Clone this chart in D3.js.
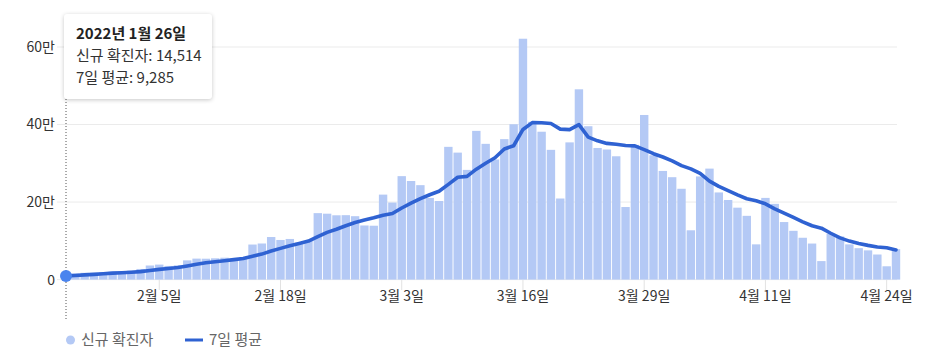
<!DOCTYPE html>
<html><head><meta charset="utf-8">
<script src="https://cdn.jsdelivr.net/npm/d3@7"></script>
<style>
html,body{margin:0;padding:0;background:#fff;}
body{width:936px;height:352px;position:relative;overflow:hidden;font-family:"Noto Sans CJK KR","Noto Sans",sans-serif;}
#tip{position:absolute;left:64px;top:14px;width:148px;height:85px;box-sizing:border-box;background:#fff;border-radius:3px;box-shadow:0 1px 4px rgba(0,0,0,0.22);padding:8px 0 0 12px;color:#222;white-space:nowrap;}
#tip .t{font-weight:700;font-size:15px;line-height:22px;}
#tip .r{font-size:15px;line-height:22px;color:#333;}
</style></head>
<body>
<svg id="chart" width="936" height="352"></svg>
<div id="tip"></div>
<script>
// Dates (2022-01-26 .. 2022-04-25)
const startDate = "2022-01-26";
const dayCount = 90;
// Daily new confirmed cases
const newCases = [
14514,16096,17542,17528,18342,20270,20269,22907,27443,36362,
38691,35286,36719,49567,54122,53926,54941,56431,54619,57177,
90443,93135,109831,102211,104829,95362,99573,171452,170016,165890,
166209,163565,139626,138993,219241,198803,266853,254327,243628,210716,
202721,342446,327549,282987,383665,350190,309790,362338,400741,621328,
407017,381454,334708,209169,353980,490881,395598,339514,335580,318130,
187213,347554,424641,320743,280273,264171,234301,127190,266135,286294,
224820,205333,185566,164481,90928,210755,195419,148443,125846,107916,
93001,47743,118504,111319,90867,81058,75449,64725,34370,78500];
// 7-day average
const avg7 = [
9285,10617,12123,13537,15086,16758,17794,18993,20614,23303,
26326,28747,31097,35282,39741,43525,46179,48713,51475,54398,
60237,65810,73797,80550,87464,93284,99341,110913,121896,129905,
139047,147438,153762,159393,166220,170332,184756,197344,208782,218937,
228041,245642,264034,266339,284816,300039,314193,336995,345323,387291,
405010,404694,402482,388108,386914,399791,367544,357901,351347,348979,
345842,344924,335461,324768,316305,306104,294128,285553,273922,254158,
240455,229749,218520,208546,203365,195454,182472,171561,160205,149113,
138901,132732,119553,107539,99314,92915,88277,84238,82327,76613];
const yTicks = [0, 200000, 400000, 600000];
const yTickLabels = ["0", "20만", "40만", "60만"];
const xTickDays = [10, 23, 36, 49, 62, 75, 88];
const legendLabels = ["신규 확진자", "7일 평균"];
const tipTitle = "2022년 1월 26일";
const tipNewLabel = "신규 확진자";
const tipAvgLabel = "7일 평균";
const hoverIndex = 0;

const parse = d3.timeParse("%Y-%m-%d");
const d0 = parse(startDate);
const dates = d3.range(dayCount).map(i => d3.timeDay.offset(d0, i));

const svg = d3.select("#chart");
const barColor = "#b4c9f5", lineColor = "#2f62d2", dotColor = "#4a84ee";

const x = d3.scaleBand().domain(d3.range(dayCount)).range([61.34, 900.66]).paddingInner(0.1).paddingOuter(0.05);
const cx = i => x(i) + x.bandwidth() / 2;
const y = d3.scaleLinear().domain([0, 600000]).range([279.6, 47]);

// gridlines + y labels
const yg = svg.append("g");
yg.selectAll("line").data(yTicks).join("line")
  .attr("x1", 57).attr("x2", 897)
  .attr("y1", d => y(d)).attr("y2", d => y(d))
  .attr("stroke", "#ebebeb").attr("stroke-width", 1);
yg.selectAll("text").data(yTicks).join("text")
  .attr("x", 55).attr("y", d => y(d)).attr("dy", "0.35em")
  .attr("text-anchor", "end").attr("font-size", 14).attr("fill", "#333")
  .text((d, i) => yTickLabels[i]);

// x axis ticks
const fmt = d3.timeFormat("%-m월 %-d일");
const xg = svg.append("g");
xg.selectAll("line").data(xTickDays).join("line")
  .attr("x1", d => cx(d)).attr("x2", d => cx(d))
  .attr("y1", 280).attr("y2", 290)
  .attr("stroke", "#e2e2e2").attr("stroke-width", 1);
xg.selectAll("text").data(xTickDays).join("text")
  .attr("x", d => cx(d)).attr("y", 301)
  .attr("text-anchor", "middle").attr("font-size", 14).attr("fill", "#333")
  .text(d => fmt(dates[d]));

// bars
svg.append("g").selectAll("rect").data(newCases).join("rect")
  .attr("x", (d, i) => x(i)).attr("width", x.bandwidth())
  .attr("y", d => y(d)).attr("height", d => y(0) - y(d))
  .attr("fill", barColor);

// hover dotted line
svg.append("line").attr("x1", cx(hoverIndex)).attr("x2", cx(hoverIndex))
  .attr("y1", 99).attr("y2", 320)
  .attr("stroke", "#555").attr("stroke-width", 1).attr("stroke-dasharray", "1,2");

// line
const line = d3.line().x((d, i) => cx(i)).y(d => y(d));
svg.append("path").datum(avg7).attr("d", line)
  .attr("fill", "none").attr("stroke", lineColor).attr("stroke-width", 3.6)
  .attr("stroke-linejoin", "round").attr("stroke-linecap", "round");

// hover dot
svg.append("circle").attr("cx", cx(hoverIndex)).attr("cy", y(avg7[hoverIndex]))
  .attr("r", 6).attr("fill", dotColor);

// legend
const lg = svg.append("g");
lg.append("circle").attr("cx", 70.5).attr("cy", 340).attr("r", 4.5).attr("fill", barColor);
lg.append("text").attr("x", 81).attr("y", 340).attr("dy", "0.35em").attr("font-size", 15).attr("fill", "#666").text(legendLabels[0]);
lg.append("line").attr("x1", 185).attr("x2", 203).attr("y1", 340).attr("y2", 340).attr("stroke", lineColor).attr("stroke-width", 3);
lg.append("text").attr("x", 209).attr("y", 340).attr("dy", "0.35em").attr("font-size", 15).attr("fill", "#666").text(legendLabels[1]);

// tooltip
const nf = d3.format(",");
const tip = d3.select("#tip");
tip.append("div").attr("class", "t").text(tipTitle);
tip.append("div").attr("class", "r").text(tipNewLabel + ": " + nf(newCases[hoverIndex]));
tip.append("div").attr("class", "r").text(tipAvgLabel + ": " + nf(avg7[hoverIndex]));
</script>
</body></html>
